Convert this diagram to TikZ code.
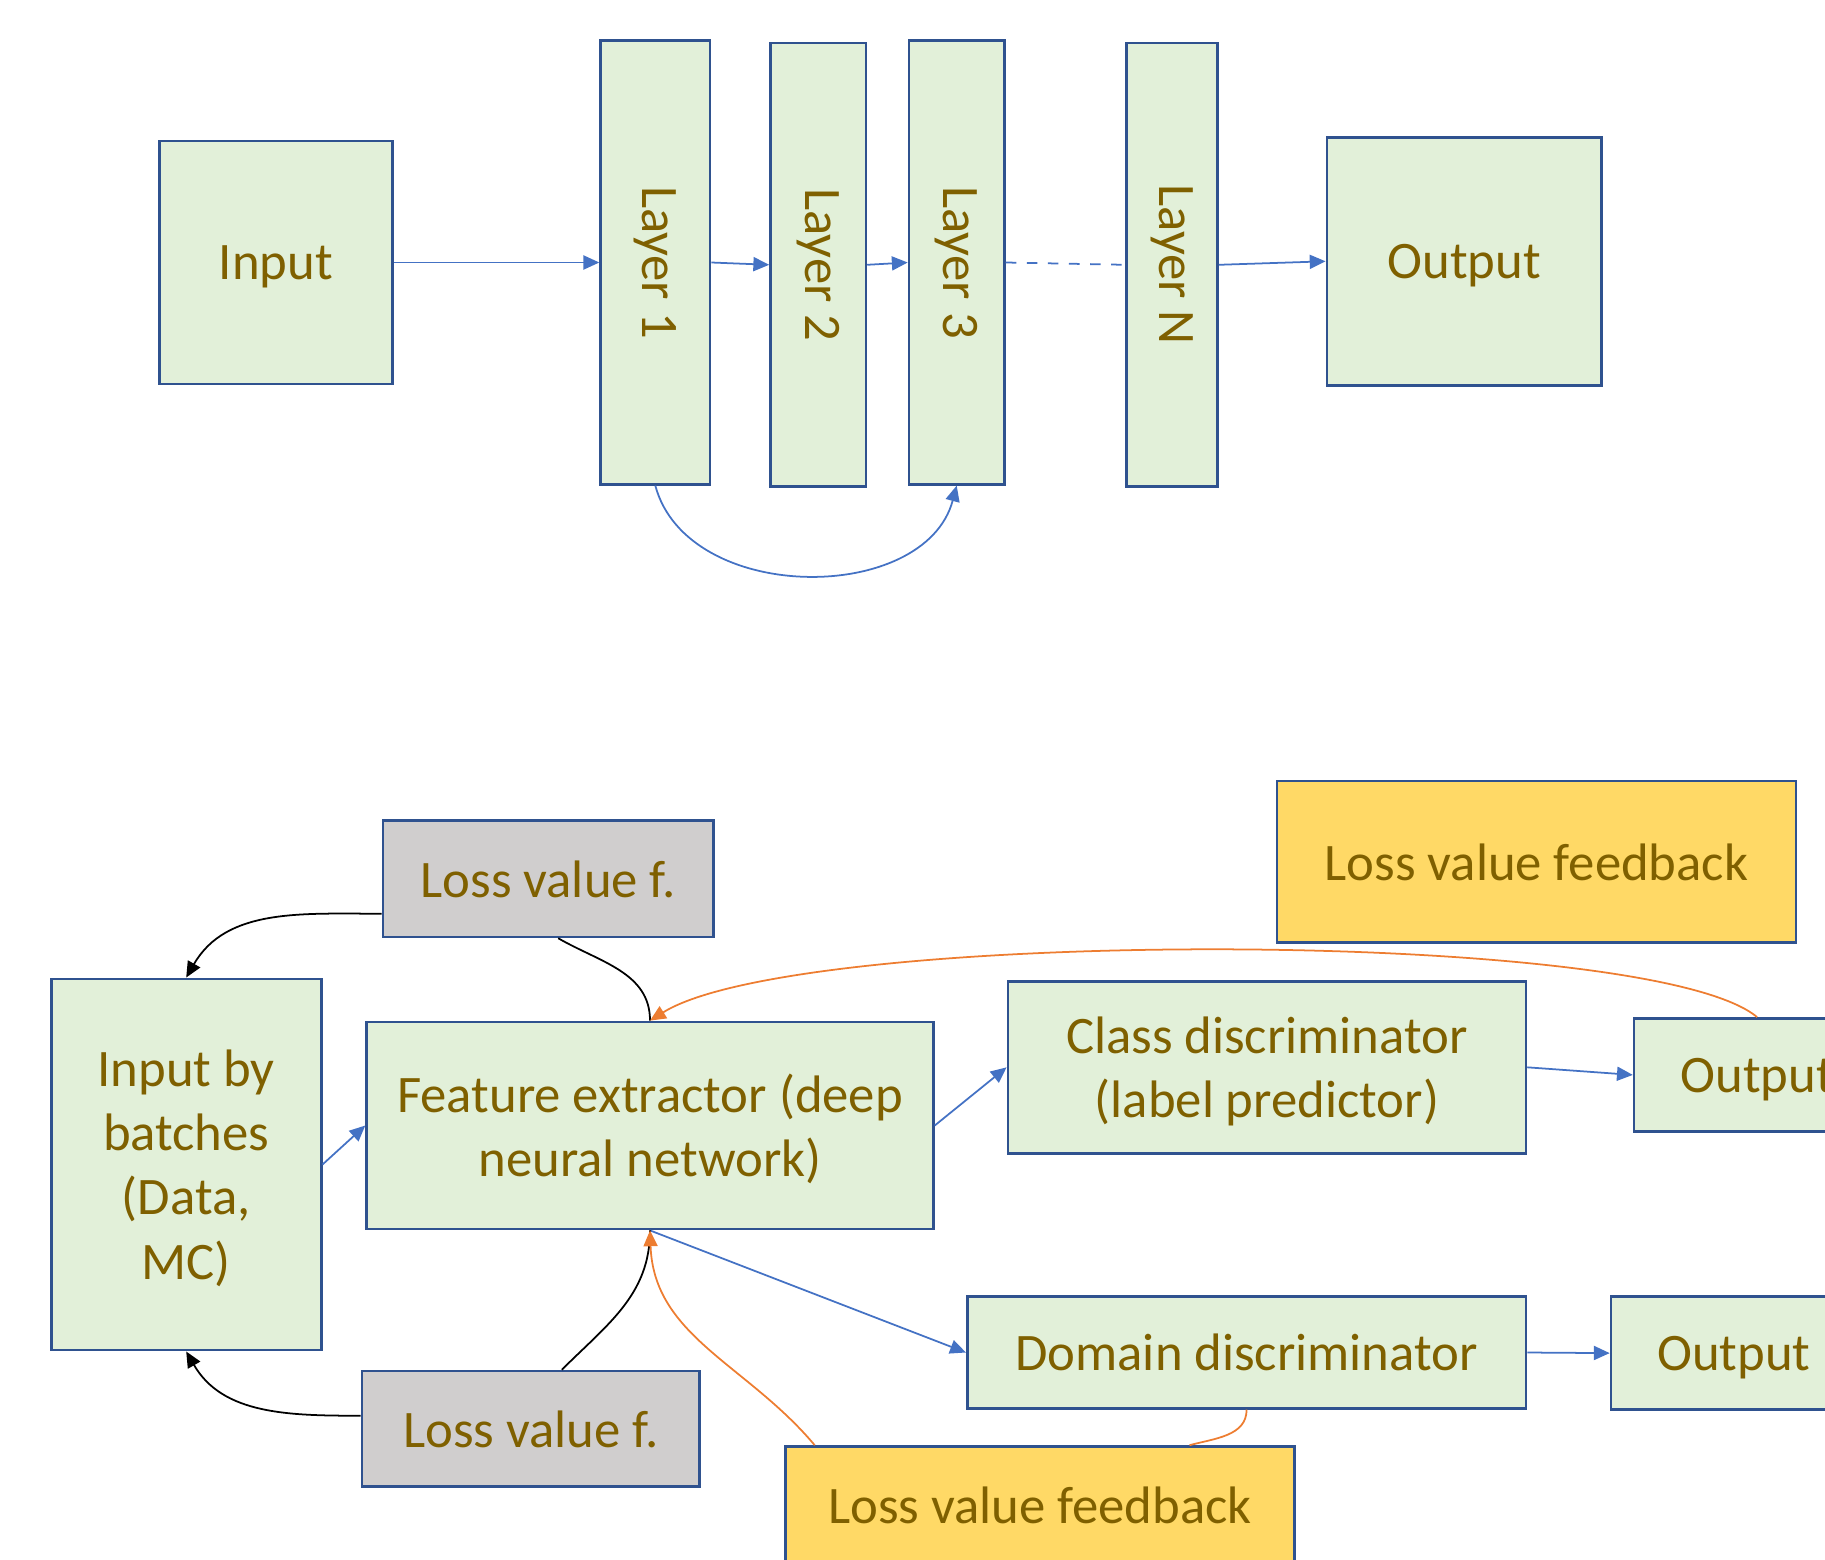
\documentclass[tikz,border=0pt]{standalone}
\usepackage{fontspec}
\setmainfont{Carlito}
\usetikzlibrary{arrows.meta}
\definecolor{boxgreen}{HTML}{E2F0D9}
\definecolor{boxgray}{HTML}{D0CECE}
\definecolor{boxyellow}{HTML}{FFD966}
\definecolor{boxline}{HTML}{2F528F}
\definecolor{txt}{HTML}{7F6000}
\definecolor{arrowblue}{HTML}{4472C4}
\definecolor{lossorange}{HTML}{ED7D31}
\begin{document}
\begin{tikzpicture}[main/.style = {draw=boxline, line width=0.75pt, fill=boxgreen, text=txt, inner sep=0pt, align=center, text depth=0pt, font=\fontsize{15}{18.3}\selectfont},
    layer/.style = {main, text depth=},
    loss/.style = {main, fill=boxgray},
    feedback/.style = {main, fill=boxyellow},
    head/.style = {-{Triangle[length=4.5pt,width=4pt]}},
    link/.style = {draw=arrowblue, line width=0.5pt, head},
    lossline/.style = {draw=black, line width=0.5pt},
    feedline/.style = {draw=lossorange, line width=0.5pt}]
    \useasboundingbox (0,0) rectangle (18.25,-15.59);
    \clip (0,0) rectangle (18.25,-15.59);
    % plain network
    \node[main, minimum width=2.327cm, minimum height=2.433cm] (input) at (2.759,-2.625) {Input};
    \node[layer, minimum width=1.094cm, minimum height=4.435cm] (l1) at (6.553,-2.625) {\rotatebox{-90}{Layer 1}};
    \node[layer, minimum width=0.954cm, minimum height=4.434cm] (l2) at (8.182,-2.648) {\rotatebox{-90}{Layer 2}};
    \node[layer, minimum width=0.954cm, minimum height=4.435cm] (l3) at (9.567,-2.625) {\rotatebox{-90}{Layer 3}};
    \node[layer, minimum width=0.907cm, minimum height=4.434cm] (ln) at (11.721,-2.648) {\rotatebox{-90}{Layer N}};
    \node[main, minimum width=2.747cm, minimum height=2.480cm] (output) at (14.642,-2.613) {Output};
    \draw[link] (input.east) -- (l1.west);
    \draw[link] (l1.east) -- (l2.west);
    \draw[link] (l2.east) -- (l3.west);
    \draw[link, -, dashed] (l3.east) -- (ln.west);
    \draw[link] (ln.east) -- (output.west);
    \draw[link] (l1.south) to[out=-75, in=-105, looseness=1.05] (l3.south);
    % domain adaptation
    \node[loss, minimum width=3.306cm, minimum height=1.164cm] (lossa) at (5.482,-8.787) {Loss value f.};
    \node[feedback, minimum width=5.191cm, minimum height=1.618cm] (feeda) at (15.364,-8.619) {Loss value feedback};
    \node[main, minimum width=2.700cm, minimum height=3.713cm] (batch) at (1.862,-11.645) {Input by\\batches\\(Data,\\MC)};
    \node[main, minimum width=5.668cm, minimum height=2.072cm] (feat) at (6.500,-11.255) {Feature extractor (deep\\neural network)};
    \node[main, minimum width=5.180cm, minimum height=1.722cm] (class) at (12.669,-10.673) {Class discriminator\\(label predictor)};
    \node[main, minimum width=2.46cm, minimum height=1.129cm] (outa) at (17.571,-10.749) {Output};
    \node[main, minimum width=5.587cm, minimum height=1.117cm] (domain) at (12.466,-13.525) {Domain discriminator};
    \node[main, minimum width=2.46cm, minimum height=1.129cm] (outb) at (17.34,-13.531) {Output};
    \node[loss, minimum width=3.375cm, minimum height=1.152cm] (lossb) at (5.308,-14.287) {Loss value f.};
    \node[feedback, minimum width=5.087cm, minimum height=1.17cm] (feedb) at (10.40,-15.05) {Loss value feedback};
    \draw[link] (batch.east) -- (feat.west);
    \draw[link] (feat.east) -- (class.west);
    \draw[link] (class.east) -- (outa.west);
    \draw[link] (feat.south) -- (domain.west);
    \draw[link] (domain.east) -- (outb.west);
    \draw[lossline, head] ([yshift=-0.35cm]lossa.west) to[out=180, in=60] (batch.north);
    \draw[lossline] (feat.north) to[out=90, in=-30] ([xshift=0.1cm]lossa.south);
    \draw[lossline, head] ([yshift=0.13cm]lossb.west) to[out=180, in=-60] (batch.south);
    \draw[lossline] ([xshift=0.31cm]lossb.north) to[out=45, in=-90] (feat.south);
    \draw[feedline, head] (outa.north) to[out=140, in=32, out distance=1.4cm, in distance=1.75cm] (feat.north);
    \draw[feedline] (domain.south) to[out=-90, in=15] ([xshift=1.495cm]feedb.north);
    \draw[feedline, head] ([xshift=-2.253cm]feedb.north) to[out=130, in=-88] (feat.south);
\end{tikzpicture}
\end{document}
